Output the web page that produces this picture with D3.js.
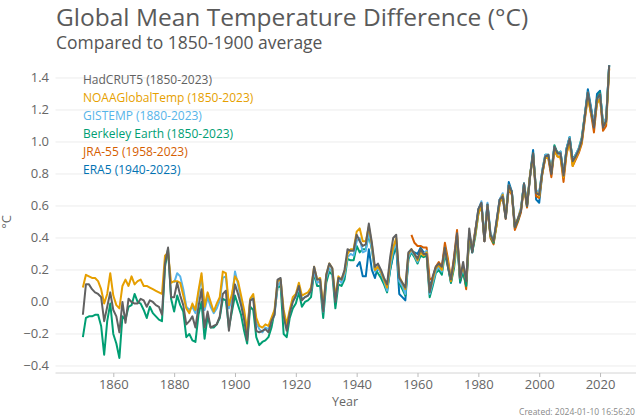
<!DOCTYPE html>
<html>
<head>
<meta charset="utf-8">
<script src="https://cdn.jsdelivr.net/npm/d3@7"></script>
<style>
  body { margin: 0; background: #fff; }
  text { font-family: "Open Sans", "Noto Sans", sans-serif; }
</style>
</head>
<body>
<svg id="chart" width="640" height="420"></svg>
<script>
'use strict';

/* Data: annual anomalies vs 1850-1900 (°C) */

var hadcrut5 = [
  -0.08, 0.11, 0.11, 0.08, 0.06, 0.05, 0.03, -0.12, -0.03, 0.06,
  -0.05, -0.09, -0.19, 0.00, -0.13, 0.02, 0.00, -0.01, -0.01, 0.02,
  0.01, -0.03, 0.01, 0.00, -0.02, -0.03, -0.08, 0.24, 0.34, 0.03,
  0.03, 0.12, 0.04, -0.02, -0.14, -0.12, -0.09, -0.16, -0.03, 0.08,
  -0.16, -0.06, -0.16, -0.15, -0.14, -0.09, 0.05, 0.07, -0.18, -0.03,
  0.11, 0.05, -0.02, -0.11, -0.24, 0.01, 0.02, -0.18, -0.19, -0.18,
  -0.17, -0.19, -0.12, -0.08, 0.14, 0.15, -0.09, -0.18, -0.07, 0.00,
  0.04, 0.10, 0.01, 0.03, 0.04, 0.07, 0.22, 0.14, 0.14, -0.06,
  0.17, 0.24, 0.21, 0.00, 0.15, 0.14, 0.20, 0.33, 0.32, 0.32,
  0.42, 0.38, 0.35, 0.36, 0.49, 0.37, 0.22, 0.24, 0.20, 0.15,
  0.11, 0.28, 0.40, 0.42, 0.15, 0.12, 0.09, 0.31, 0.33, 0.30,
  0.27, 0.33, 0.30, 0.30, 0.06, 0.16, 0.22, 0.24, 0.22, 0.34,
  0.22, 0.14, 0.27, 0.43, 0.15, 0.25, 0.13, 0.46, 0.31, 0.44,
  0.58, 0.62, 0.38, 0.61, 0.42, 0.38, 0.51, 0.64, 0.66, 0.52,
  0.73, 0.69, 0.47, 0.52, 0.57, 0.74, 0.60, 0.79, 0.93, 0.68,
  0.67, 0.81, 0.91, 0.92, 0.80, 0.97, 0.93, 0.93, 0.79, 0.95,
  1.02, 0.88, 0.91, 0.95, 1.01, 1.16, 1.31, 1.20, 1.09, 1.27,
  1.30, 1.09, 1.13, 1.48
];

var noaaGlobalTemp = [
  0.09, 0.17, 0.16, 0.15, 0.15, 0.13, 0.08, -0.01, 0.05, 0.18,
  0.04, -0.02, -0.04, 0.10, 0.14, 0.10, 0.16, 0.11, 0.13, 0.14,
  0.10, 0.10, 0.09, 0.08, 0.07, 0.06, 0.05, 0.29, 0.31, 0.12,
  0.13, 0.13, 0.12, 0.04, -0.04, -0.07, -0.01, -0.05, 0.07, 0.18,
  -0.03, 0.06, 0.00, -0.06, -0.01, 0.03, 0.19, 0.18, -0.02, 0.05,
  0.16, 0.13, 0.04, -0.05, -0.18, 0.02, 0.05, -0.10, -0.15, -0.16,
  -0.14, -0.15, -0.10, -0.05, 0.13, 0.14, -0.05, -0.14, -0.05, 0.03,
  0.05, 0.12, 0.04, 0.05, 0.06, 0.09, 0.22, 0.14, 0.15, -0.03,
  0.17, 0.24, 0.21, 0.03, 0.16, 0.14, 0.19, 0.30, 0.33, 0.33,
  0.44, 0.46, 0.38, 0.38, 0.47, 0.36, 0.20, 0.22, 0.19, 0.14,
  0.09, 0.25, 0.34, 0.40, 0.16, 0.12, 0.08, 0.30, 0.33, 0.30,
  0.26, 0.31, 0.29, 0.31, 0.07, 0.14, 0.21, 0.23, 0.20, 0.34,
  0.25, 0.13, 0.24, 0.41, 0.16, 0.22, 0.14, 0.42, 0.33, 0.42,
  0.55, 0.60, 0.40, 0.60, 0.41, 0.38, 0.48, 0.62, 0.67, 0.54,
  0.71, 0.68, 0.48, 0.52, 0.58, 0.72, 0.61, 0.80, 0.91, 0.69,
  0.66, 0.80, 0.90, 0.90, 0.81, 0.95, 0.91, 0.90, 0.78, 0.93,
  1.00, 0.85, 0.90, 0.94, 1.00, 1.15, 1.28, 1.18, 1.10, 1.24,
  1.27, 1.10, 1.12, 1.46
];

var gistemp = [
  0.12, 0.18, 0.16, 0.08, -0.03, -0.05, -0.03, -0.07, 0.05, 0.16,
  -0.05, 0.03, -0.03, -0.07, -0.04, 0.01, 0.15, 0.16, -0.04, 0.02,
  0.19, 0.11, 0.01, -0.07, -0.19, 0.01, 0.03, -0.13, -0.17, -0.19,
  -0.16, -0.17, -0.12, -0.08, 0.10, 0.13, -0.08, -0.16, -0.06, 0.01,
  0.03, 0.09, 0.02, 0.03, 0.04, 0.07, 0.19, 0.12, 0.13, -0.06,
  0.15, 0.21, 0.19, 0.01, 0.14, 0.12, 0.17, 0.28, 0.30, 0.29,
  0.38, 0.40, 0.31, 0.32, 0.44, 0.33, 0.19, 0.21, 0.18, 0.13,
  0.07, 0.22, 0.32, 0.37, 0.13, 0.10, 0.05, 0.28, 0.32, 0.29,
  0.25, 0.32, 0.30, 0.32, 0.05, 0.12, 0.19, 0.22, 0.19, 0.32,
  0.24, 0.14, 0.24, 0.40, 0.15, 0.21, 0.14, 0.43, 0.34, 0.43,
  0.57, 0.63, 0.41, 0.62, 0.43, 0.39, 0.50, 0.64, 0.68, 0.54,
  0.73, 0.69, 0.49, 0.52, 0.59, 0.74, 0.62, 0.79, 0.92, 0.70,
  0.68, 0.82, 0.92, 0.92, 0.82, 0.97, 0.92, 0.94, 0.80, 0.96,
  1.03, 0.88, 0.92, 0.96, 1.02, 1.17, 1.31, 1.21, 1.12, 1.26,
  1.30, 1.12, 1.15, 1.48
];

var berkeleyEarth = [
  -0.22, -0.10, -0.09, -0.09, -0.08, -0.08, -0.15, -0.33, -0.12, -0.01,
  -0.20, -0.26, -0.35, -0.09, -0.11, -0.03, -0.02, 0.05, 0.00, -0.01,
  -0.05, -0.10, -0.03, -0.07, -0.09, -0.11, -0.12, 0.22, 0.33, 0.02,
  -0.06, 0.04, -0.02, -0.06, -0.22, -0.20, -0.24, -0.25, -0.08, 0.00,
  -0.23, -0.09, -0.16, -0.16, -0.14, -0.10, 0.02, 0.01, -0.16, -0.06,
  0.04, -0.02, -0.08, -0.18, -0.26, -0.03, -0.05, -0.22, -0.27, -0.25,
  -0.24, -0.22, -0.16, -0.06, 0.09, 0.10, -0.20, -0.22, -0.10, -0.04,
  -0.01, 0.06, -0.03, 0.00, 0.01, 0.03, 0.18, 0.10, 0.10, -0.10,
  0.12, 0.19, 0.17, -0.04, 0.11, 0.10, 0.14, 0.27, 0.26, 0.26,
  0.35, 0.31, 0.33, 0.33, 0.42, 0.33, 0.20, 0.18, 0.15, 0.11,
  0.06, 0.20, 0.30, 0.36, 0.12, 0.08, 0.04, 0.27, 0.31, 0.28,
  0.24, 0.29, 0.28, 0.29, 0.03, 0.10, 0.18, 0.20, 0.17, 0.30,
  0.22, 0.12, 0.21, 0.38, 0.13, 0.19, 0.10, 0.41, 0.31, 0.41,
  0.55, 0.61, 0.40, 0.61, 0.41, 0.37, 0.49, 0.63, 0.67, 0.53,
  0.73, 0.69, 0.47, 0.51, 0.58, 0.74, 0.60, 0.79, 0.93, 0.69,
  0.68, 0.82, 0.92, 0.92, 0.81, 0.98, 0.93, 0.94, 0.80, 0.96,
  1.03, 0.89, 0.92, 0.96, 1.03, 1.17, 1.31, 1.21, 1.11, 1.27,
  1.31, 1.11, 1.14, 1.48
];

var jra55 = [
  0.42, 0.37, 0.35, 0.35, 0.34, 0.34, 0.14, 0.15, 0.22, 0.25,
  0.22, 0.37, 0.27, 0.14, 0.28, 0.45, 0.13, 0.20, 0.08, 0.42,
  0.33, 0.45, 0.56, 0.61, 0.38, 0.60, 0.40, 0.36, 0.48, 0.62,
  0.66, 0.52, 0.71, 0.67, 0.45, 0.50, 0.56, 0.72, 0.59, 0.78,
  0.92, 0.66, 0.65, 0.80, 0.90, 0.90, 0.78, 0.95, 0.91, 0.91,
  0.75, 0.93, 1.00, 0.85, 0.89, 0.93, 0.99, 1.14, 1.29, 1.18,
  1.06, 1.25, 1.28, 1.07, 1.10, 1.46
];

var era5 = [
  0.22, 0.25, 0.16, 0.16, 0.33, 0.20, 0.15, 0.22, 0.18, 0.12,
  0.08, 0.20, 0.29, 0.35, 0.05, 0.03, 0.01, 0.27, 0.32, 0.31,
  0.30, 0.34, 0.31, 0.31, 0.10, 0.14, 0.21, 0.23, 0.20, 0.34,
  0.23, 0.12, 0.25, 0.42, 0.12, 0.20, 0.10, 0.43, 0.31, 0.44,
  0.58, 0.62, 0.38, 0.61, 0.41, 0.37, 0.50, 0.64, 0.67, 0.53,
  0.75, 0.69, 0.46, 0.51, 0.57, 0.74, 0.60, 0.79, 0.95, 0.64,
  0.62, 0.80, 0.91, 0.91, 0.80, 0.97, 0.93, 0.93, 0.78, 0.96,
  1.03, 0.88, 0.92, 0.95, 1.01, 1.17, 1.33, 1.22, 1.10, 1.30,
  1.32, 1.10, 1.14, 1.48
];

var seriesNames = ["HadCRUT5", "NOAAGlobalTemp", "GISTEMP", "Berkeley Earth", "JRA-55", "ERA5"];
var seriesValues = [hadcrut5, noaaGlobalTemp, gistemp, berkeleyEarth, jra55, era5];
var seriesStart = [1850, 1850, 1880, 1850, 1958, 1940];
var seriesColors = ["#616161", "#e69f00", "#56b4e9", "#009e73", "#d55e00", "#0072b2"];

var yTicks = [-0.4, -0.2, 0.0, 0.2, 0.4, 0.6, 0.8, 1.0, 1.2, 1.4];
var xTicks = [1860, 1880, 1900, 1920, 1940, 1960, 1980, 2000, 2020];

var svg = d3.select("#chart");

var x = d3.scaleLinear().domain([1841, 2031]).range([55.5, 633.5]),
    y = d3.scaleLinear().domain([-0.444, 1.5]).range([373, 62]);

// title
svg.append("text").attr("x", 56).attr("y", 26)
  .style("font-size", "24.5px").style("fill", "#5a5a5a")
  .text("Global Mean Temperature Difference (°C)");
svg.append("text").attr("x", 56).attr("y", 49)
  .style("font-size", "17.5px").style("fill", "#555")
  .text("Compared to 1850-1900 average");

// grid
svg.append("g").selectAll("line").data(yTicks).enter().append("line")
  .attr("x1", x.range()[0]).attr("x2", 636)
  .attr("y1", function(d) { return y(d); })
  .attr("y2", function(d) { return y(d); })
  .style("stroke", "#ececec").style("stroke-width", 1);

// y axis labels
svg.append("g").selectAll("text").data(yTicks).enter().append("text")
  .attr("x", 49)
  .attr("y", function(d) { return y(d) + 4.5; })
  .attr("text-anchor", "end")
  .style("font-size", "13px").style("fill", "#666")
  .text(function(d) { return d3.format(".1f")(d).replace("-", "\u2212"); });

svg.append("text")
  .attr("transform", "translate(11," + y(0.5) + ") rotate(-90)")
  .attr("text-anchor", "middle")
  .style("font-size", "13px").style("fill", "#666")
  .text("°C");

// x axis
var xAxis = d3.axisBottom(x).tickValues(xTicks).tickFormat(d3.format("d"))
  .tickSize(4).tickSizeOuter(0);
var gx = svg.append("g").attr("transform", "translate(0," + y(-0.444) + ")").call(xAxis);
gx.select(".domain").attr("d", "M" + x.range()[0] + ",0H636").style("stroke", "#d4d4d4");
gx.selectAll(".tick line").style("stroke", "#bbb");
gx.selectAll(".tick text").attr("dy", "0.7em").style("font-size", "13px").style("fill", "#666")
  .style("font-family", "'Open Sans', sans-serif");

svg.append("text").attr("x", 345).attr("y", 406).attr("text-anchor", "middle")
  .style("font-size", "12.5px").style("fill", "#666").text("Year");

svg.append("text").attr("x", 635).attr("y", 415).attr("text-anchor", "end")
  .style("font-size", "8.5px").style("fill", "#888").text("Created: 2024-01-10 16:56:20");

// lines (HadCRUT5 drawn last, on top)
var line = d3.line()
  .x(function(d) { return x(d.year); })
  .y(function(d) { return y(d.value); });

var series = seriesNames.map(function(name, i) {
  return {
    name: name,
    color: seriesColors[i],
    points: seriesValues[i].map(function(v, j) { return { year: seriesStart[i] + j, value: v }; })
  };
});

svg.append("g").selectAll("path").data(series.slice().reverse()).enter().append("path")
  .attr("d", function(d) { return line(d.points); })
  .style("fill", "none")
  .style("stroke", function(d) { return d.color; })
  .style("stroke-width", 2)
  .style("stroke-linejoin", "round");

// legend
svg.append("g").selectAll("text").data(series).enter().append("text")
  .attr("x", 83)
  .attr("y", function(d, i) { return 84 + i * 18; })
  .style("font-size", "12px")
  .style("fill", function(d) { return d.color; })
  .text(function(d) {
    var last = d.points[d.points.length - 1].year;
    return d.name + " (" + d.points[0].year + "-" + last + ")";
  });
</script>
</body>
</html>
